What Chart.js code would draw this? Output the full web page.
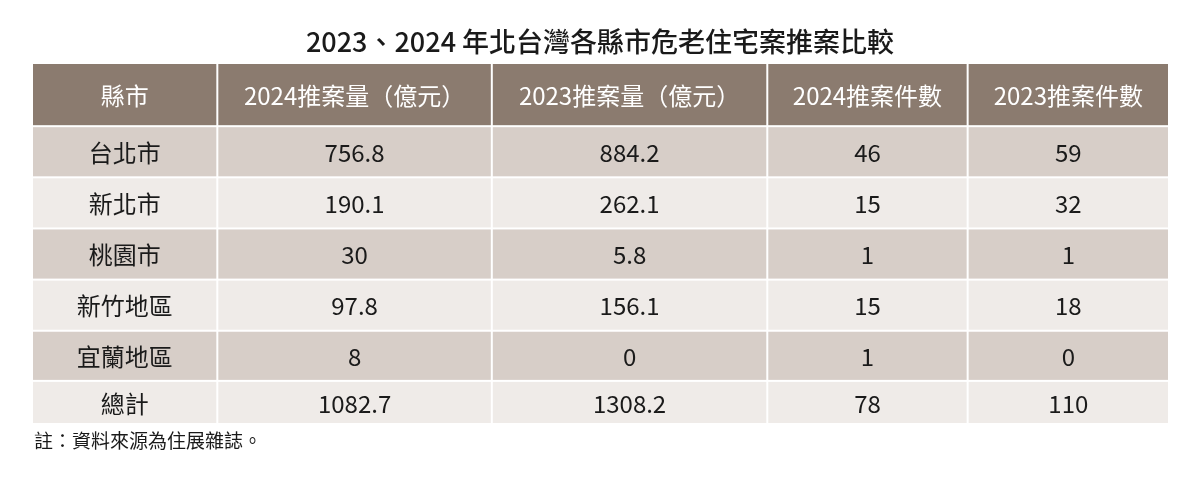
<!DOCTYPE html>
<html><head><meta charset="utf-8">
<script src="https://cdn.jsdelivr.net/npm/chart.js@4"></script>
<style>body{margin:0;background:#fff}</style>
</head><body>
<canvas id="c" width="1200" height="486"></canvas>
<script>
const titleText = "2023、2024 年北台灣各縣市危老住宅案推案比較";
const noteText = "註：資料來源為住展雜誌。";
const headers = ["縣市", "2024推案量（億元）", "2023推案量（億元）", "2024推案件數", "2023推案件數"];
const cities = ["台北市", "新北市", "桃園市", "新竹地區", "宜蘭地區", "總計"];
const vol2024 = ["756.8", "190.1", "30", "97.8", "8", "1082.7"];
const vol2023 = ["884.2", "262.1", "5.8", "156.1", "0", "1308.2"];
const cnt2024 = ["46", "15", "1", "15", "1", "78"];
const cnt2023 = ["59", "32", "1", "18", "0", "110"];
// column and row boundaries in table units
const colEdges = [0, 185, 459, 734, 934, 1135];
const rowEdges = [0, 63, 114, 165, 216, 267, 317, 360];

const headBg = "#8b7b6f", darkRow = "#d7cec8", lightRow = "#efebe8";
const font = "'Noto Sans CJK TC','Noto Sans',sans-serif";

const tablePlugin = {
  id: "table",
  afterDraw(chart) {
    const ctx = chart.ctx, xs = chart.scales.x, ys = chart.scales.y;
    const cols = [cities, vol2024, vol2023, cnt2024, cnt2023];
    ctx.save();
    for (let r = 0; r < rowEdges.length - 1; r++) {
      const y0 = ys.getPixelForValue(rowEdges[r]), y1 = ys.getPixelForValue(rowEdges[r + 1]);
      for (let c = 0; c < colEdges.length - 1; c++) {
        const x0 = xs.getPixelForValue(colEdges[c]), x1 = xs.getPixelForValue(colEdges[c + 1]);
        ctx.fillStyle = r === 0 ? headBg : (r % 2 === 1 ? darkRow : lightRow);
        ctx.fillRect(x0 + 1, y0 + 1, x1 - x0 - 2, y1 - y0 - 2);
        ctx.fillStyle = r === 0 ? "#fff" : "#1a1a1a";
        ctx.font = "24px " + font;
        ctx.textAlign = "center";
        ctx.textBaseline = "middle";
        const txt = r === 0 ? headers[c] : cols[c][r - 1];
        ctx.fillText(txt, (x0 + x1) / 2, (y0 + y1) / 2 + 1);
      }
    }
    ctx.fillStyle = "#1a1a1a";
    ctx.font = "500 27px " + font;
    ctx.fillText(titleText, 600, 42);
    ctx.font = "19px " + font;
    ctx.textAlign = "left";
    ctx.fillText(noteText, 34, 441);
    ctx.restore();
  }
};

new Chart(document.getElementById("c"), {
  type: "scatter",
  data: { datasets: [{ data: [] }] },
  options: {
    responsive: false,
    animation: false,
    layout: { padding: { left: 32, right: 31, top: 63, bottom: 62 } },
    plugins: { legend: { display: false }, tooltip: { enabled: false } },
    scales: {
      x: { type: "linear", min: colEdges[0], max: colEdges[colEdges.length - 1], display: false },
      y: { type: "linear", min: rowEdges[0], max: rowEdges[rowEdges.length - 1], reverse: true, display: false }
    }
  },
  plugins: [tablePlugin]
});
</script>
</body></html>
